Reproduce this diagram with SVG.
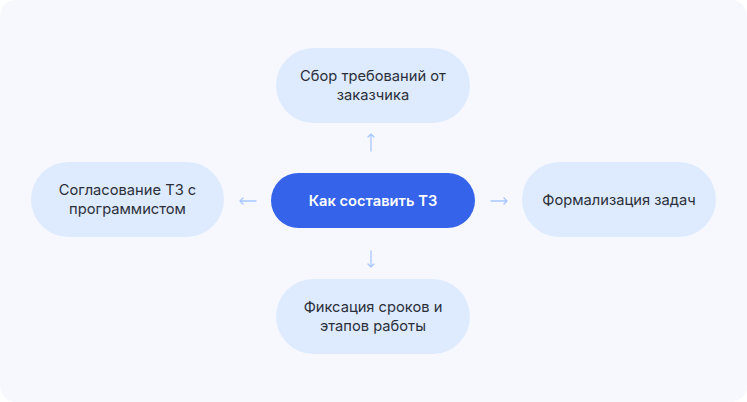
<svg xmlns="http://www.w3.org/2000/svg" width="747" height="402" viewBox="0 0 747 402">
<defs>
<style>
.node{fill:#DEEBFE;}
.t{font-family:Inter,"Noto Sans",sans-serif;font-size:14.7px;fill:#2B2F3A;text-anchor:middle;}
.ct{font-family:Inter,"Noto Sans",sans-serif;font-size:14.7px;font-weight:600;fill:#FFFFFF;text-anchor:middle;}
.a{stroke:#A8C6FF;stroke-width:1.3;fill:none;stroke-linecap:round;stroke-linejoin:round;}
</style>
</defs>
<rect x="0" y="0" width="747" height="402" fill="#FFFFFF"/>
<rect x="0" y="0" width="747" height="402" rx="16" fill="#F7F8FE"/>
<g id="connectors">
<path class="a" d="M371 151 V134 M368 137 L371 134 L374 137"/>
<path class="a" d="M371 251 V267 M368 264 L371 267 L374 264"/>
<path class="a" d="M256 201 H240 M243 198 L240 201 L243 204"/>
<path class="a" d="M491 201 H507 M504 198 L507 201 L504 204"/>
</g>
<g id="center">
<rect x="271" y="173" width="204" height="55" rx="27.5" fill="#3563E9"/>
<text class="ct" x="373" y="205.5">Как составить ТЗ</text>
</g>
<g id="top">
<rect class="node" x="276" y="48" width="194" height="75" rx="37.5"/>
<text class="t" x="373" y="81">Сбор требований от</text>
<text class="t" x="373" y="100">заказчика</text>
</g>
<g id="left">
<rect class="node" x="31" y="162" width="193" height="75" rx="37.5"/>
<text class="t" x="127.5" y="195">Согласование ТЗ с</text>
<text class="t" x="127.5" y="214">программистом</text>
</g>
<g id="right">
<rect class="node" x="522" y="162" width="194" height="75" rx="37.5"/>
<text class="t" x="619" y="204.5">Формализация задач</text>
</g>
<g id="bottom">
<rect class="node" x="276" y="279" width="194" height="75" rx="37.5"/>
<text class="t" x="373" y="312">Фиксация сроков и</text>
<text class="t" x="373" y="331">этапов работы</text>
</g>
</svg>
